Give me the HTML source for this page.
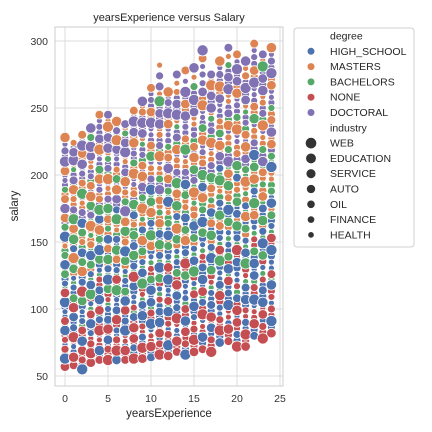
<!DOCTYPE html>
<html><head><meta charset="utf-8"><style>
body{margin:0;background:#fff;}
svg{display:block;font-family:"Liberation Sans",sans-serif;}
</style></head><body>
<svg id="chart" width="432" height="432" viewBox="0 0 432 432">
<rect x="0" y="0" width="432" height="432" fill="#fff"/>
<g id="grid"></g>
<g id="points"></g>
<rect x="55" y="27" width="228" height="359" fill="none" stroke="#cccccc" stroke-width="1"/>
<g id="ticks" font-size="10.5" fill="#333"></g>
<text x="169" y="21" text-anchor="middle" font-size="11" fill="#262626">yearsExperience versus Salary</text>
<text x="169" y="417" text-anchor="middle" font-size="11.5" fill="#262626">yearsExperience</text>
<text x="18" y="206" text-anchor="middle" font-size="11.5" fill="#262626" transform="rotate(-90 18 206)">salary</text>
<g id="legend">
<rect x="294" y="28" width="120" height="219" rx="3" fill="#fff" stroke="#d0d0d0"/>
</g>
</svg>
<script>
const years = [0,1,2,3,4,5,6,7,8,9,10,11,12,13,14,15,16,17,18,19,20,21,22,23,24];
const salaries = [
[57,63,70,77,84,91,98,105,112,119,126,133,140,147,154,161,168,175,182,189,196,203,210,218,228],
[58,64,72,79,86,94,101,108,116,123,130,138,145,152,160,167,174,182,189,196,204,211,217,224],
[55,62,69,76,84,91,98,106,113,120,128,135,142,150,157,164,172,179,186,194,201,208,216,222,230],
[60,67,74,82,89,96,104,111,118,126,133,140,148,155,162,170,177,184,192,199,206,214,221,228,235],
[62,69,77,84,92,99,107,114,122,129,137,144,152,159,167,174,182,189,197,204,212,219,227,236,245],
[62,70,77,85,92,100,107,115,122,130,137,145,152,160,167,175,182,190,197,205,212,220,228,236,245],
[62,69,77,84,92,99,107,114,122,129,137,144,152,159,167,174,182,189,197,204,212,219,226,233,240],
[62,69,76,84,91,99,106,113,121,128,136,143,150,158,165,173,180,187,195,202,210,217,224,231,238],
[63,71,78,86,94,101,109,117,124,132,140,147,155,163,170,178,186,193,201,209,216,224,232,240,248],
[63,71,79,87,95,103,111,119,127,135,143,151,159,167,175,183,191,199,207,215,223,231,239,247,255],
[64,72,80,89,97,105,114,122,130,139,147,155,164,172,180,189,197,205,214,222,230,239,247,256,265],
[66,74,82,90,98,107,115,123,131,140,148,156,164,172,181,189,197,205,214,222,230,238,246,255,266,282],
[65,73,81,89,98,106,114,122,131,139,147,155,164,172,180,188,197,205,213,221,230,238,246,254,262],
[68,76,84,93,101,110,118,127,135,143,152,160,169,177,186,194,202,211,219,228,236,245,253,262,275],
[66,74,83,91,100,108,117,125,134,142,151,159,168,176,185,193,202,210,219,227,236,244,253,262,278],
[68,77,85,94,102,111,119,128,136,145,153,162,170,179,187,196,204,213,221,230,238,247,256,266,280],
[70,79,87,96,105,113,122,131,139,148,157,165,174,183,191,200,209,217,226,235,243,252,262,275,287,293],
[68,77,86,94,103,112,120,129,138,146,155,164,172,181,190,198,207,216,224,233,242,250,259,267,275],
[75,84,92,101,110,118,127,136,144,153,162,170,179,188,196,205,214,222,231,240,248,257,266,275,285],
[76,85,94,103,112,121,130,139,148,157,165,174,183,192,201,210,219,228,237,246,255,264,273,282,295],
[72,81,90,99,108,117,126,135,144,153,162,171,180,189,198,207,216,225,234,243,252,261,270,279,290],
[72,81,90,99,107,116,125,134,142,151,160,169,177,186,195,204,212,221,230,239,247,256,265,274,285],
[80,89,98,107,116,125,134,143,152,161,170,179,188,197,206,215,224,233,242,251,260,269,278,288,298],
[78,87,96,105,114,122,131,140,149,158,166,175,184,193,202,210,219,228,237,246,254,263,272,281,290],
[82,91,100,109,118,126,135,144,153,162,170,179,188,197,206,214,223,232,241,250,258,267,276,285,295]
];
const degreeCodes = ["RBRRBRBBRBGBGOBGOPOGPOPPOP","RRBRBBRGBBGOBGOGPOOPGPPOPP","BRRBRBBGRBOGBOGBPOGOPPOPOP","RRRBBRBGBBGBOGOPGOOPOPPGPO"];
const fillerDegreeCodes = ["BRBRGBBRGBOBGOGPOPOPPOPPOP","RBRBBGRBGOBGOOGPOPGPOPPOPP"];
const industryCodes = ["20451360253146042135620413","31604213562041204513602530","04213562041325314604512036"];
const degreeNames = ["HIGH_SCHOOL","MASTERS","BACHELORS","NONE","DOCTORAL"];
const industryNames = ["WEB","EDUCATION","SERVICE","AUTO","OIL","FINANCE","HEALTH"];
const xTicks = [0,5,10,15,20,25];
const yTicks = [50,100,150,200,250,300];

const colors = {B:"#4c72b0",O:"#dd8452",G:"#55a868",R:"#c44e52",P:"#8172b3"};
const legendColors = ["#4c72b0","#dd8452","#55a868","#c44e52","#8172b3"];
const radii = [5.6,5.2,4.8,4.4,4.0,3.5,3.0];
const NS = "http://www.w3.org/2000/svg";
function px(x){return 65 + x*8.6;}
function py(s){return 376 - (s-50)*1.34;}
function mk(tag, attrs){const e=document.createElementNS(NS,tag);for(const k in attrs)e.setAttribute(k,attrs[k]);return e;}

const grid=document.getElementById('grid'), ticks=document.getElementById('ticks');
xTicks.forEach(t=>{
  const l=mk('line',{x1:px(t),x2:px(t),y1:27,y2:386,stroke:'#dcdcdc'});
  
  
  grid.appendChild(l);
  const tx=mk('text',{x:px(t),y:402,'text-anchor':'middle'});tx.textContent=t;
  
  
  ticks.appendChild(tx);
});
yTicks.forEach(t=>{
  const l=mk('line',{x1:55,x2:283,y1:py(t),y2:py(t),stroke:'#dcdcdc'});
  
  
  grid.appendChild(l);
  const tx=mk('text',{x:48,y:py(t)+4,'text-anchor':'end'});tx.textContent=t;
  
  
  ticks.appendChild(tx);
});

const pts=document.getElementById('points');
years.forEach((yr,i)=>{
  const dc=degreeCodes[i%degreeCodes.length], ic=industryCodes[i%industryCodes.length];
  const fc=fillerDegreeCodes[i%fillerDegreeCodes.length];
  const arr=salaries[i];
  // secondary, smaller marks between neighbouring observations
  for(let k=0;k<arr.length-1;k++){
    const s=(arr[k]+arr[k+1])/2;
    const c=mk('circle',{cx:px(yr),cy:py(s),r:radii[4+(k%3)],fill:colors[fc[k%fc.length]],stroke:'#fff','stroke-width':0.8});
    
    
    pts.appendChild(c);
  }
  arr.forEach((s,k)=>{
    const d=dc[k%dc.length], ind=+ic[k%ic.length];
    const c=mk('circle',{cx:px(yr),cy:py(s),r:radii[ind],fill:colors[d],stroke:'#fff','stroke-width':0.8});
    
    
    pts.appendChild(c);
  });
});

const lg=document.getElementById('legend');
let ly=36;
function ltext(txt,x,y,name){const t=mk('text',{x:x,y:y+3.5,'font-size':'10.5',fill:'#262626'});t.textContent=txt;
  
  
  lg.appendChild(t);}
ltext('degree',330,ly,'legend-degree-title');
degreeNames.forEach((n,i)=>{ly+=15.3;
  const c=mk('circle',{cx:311,cy:ly,r:3.5,fill:legendColors[i]});
  
  
  lg.appendChild(c);
  ltext(n,330,ly,'legend-entry');});
ly+=15.3;ltext('industry',330,ly,'legend-industry-title');
industryNames.forEach((n,i)=>{ly+=15.3;
  const c=mk('circle',{cx:311,cy:ly,r:radii[i]*0.95,fill:'#333'});
  
  
  lg.appendChild(c);
  ltext(n,330,ly,'legend-entry');});
</script>
</body></html>
